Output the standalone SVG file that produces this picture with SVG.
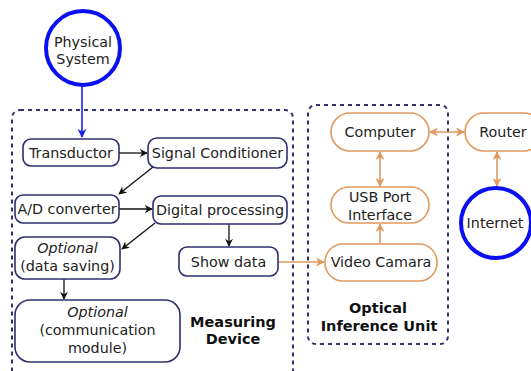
<svg xmlns="http://www.w3.org/2000/svg" width="531" height="371" viewBox="0 0 531 371">
<style>
text{font-family:"DejaVu Sans",Verdana,sans-serif;font-size:14.3px;fill:#222;text-anchor:middle}
.b{font-weight:bold;font-size:14.5px;fill:#111}
.i{font-style:italic}
.n{fill:#fff;stroke:#2f2f70;stroke-width:1.6}
.o{fill:#fff;stroke:#e0995f;stroke-width:1.6}
.c{fill:#fff;stroke:#0a10f0;stroke-width:4}
.grp{fill:none;stroke:#33336e;stroke-width:2;stroke-dasharray:4 4}
.k{stroke:#111;stroke-width:1.3;fill:none}
.ol{stroke:#e0995f;stroke-width:1.6;fill:none}
</style>
<defs>
<marker id="ak" viewBox="0 0 10 10" refX="9" refY="5" markerWidth="8" markerHeight="8" markerUnits="userSpaceOnUse" orient="auto"><path d="M0,0 L10,5 L0,10 L3,5 Z" fill="#111"/></marker>
<marker id="ab" viewBox="0 0 10 10" refX="9" refY="5" markerWidth="9" markerHeight="9" markerUnits="userSpaceOnUse" orient="auto"><path d="M0,0 L10,5 L0,10 L3,5 Z" fill="#1a22ee"/></marker>
<marker id="ao" viewBox="0 0 10 10" refX="9" refY="5" markerWidth="9" markerHeight="9" markerUnits="userSpaceOnUse" orient="auto-start-reverse"><path d="M0,0 L10,5 L0,10 L3,5 Z" fill="#e0995f"/></marker>
</defs>
<g id="measuring-device">
<rect class="grp" x="12" y="110" width="281" height="275" rx="8"/>
<text class="b" x="233" y="327">Measuring</text>
<text class="b" x="233" y="344">Device</text>
</g>
<g id="optical-unit">
<rect class="grp" x="308" y="105" width="140" height="239" rx="8"/>
<text class="b" x="378" y="313">Optical</text>
<text class="b" x="379" y="331">Inference Unit</text>
</g>
<g id="connectors">
<line x1="82" y1="86" x2="82" y2="137" stroke="#1a22ee" stroke-width="1.6" marker-end="url(#ab)"/>
<line class="k" x1="119" y1="153" x2="147" y2="153" marker-end="url(#ak)"/>
<line class="k" x1="153" y1="167" x2="119" y2="194" marker-end="url(#ak)"/>
<line class="k" x1="119" y1="209" x2="152" y2="209" marker-end="url(#ak)"/>
<line class="k" x1="155" y1="223" x2="122" y2="249" marker-end="url(#ak)"/>
<line class="k" x1="229" y1="224" x2="229" y2="246" marker-end="url(#ak)"/>
<line class="k" x1="64" y1="279" x2="64" y2="299" marker-end="url(#ak)"/>
<line class="ol" x1="278" y1="262" x2="324" y2="262" marker-end="url(#ao)"/>
<line class="ol" x1="380" y1="244" x2="380" y2="224" marker-end="url(#ao)"/>
<line class="ol" x1="380" y1="152" x2="380" y2="186" marker-start="url(#ao)" marker-end="url(#ao)"/>
<line class="ol" x1="430" y1="132" x2="464" y2="132" marker-start="url(#ao)" marker-end="url(#ao)"/>
<line class="ol" x1="497" y1="152" x2="497" y2="186" marker-start="url(#ao)" marker-end="url(#ao)"/>
</g>
<g id="physical-system">
<circle class="c" cx="83" cy="48" r="37"/>
<text x="83" y="47">Physical</text>
<text x="83" y="64">System</text>
</g>
<g id="transductor">
<rect class="n" x="23" y="139" width="96" height="27" rx="8"/>
<text x="71" y="158">Transductor</text>
</g>
<g id="signal-conditioner">
<rect class="n" x="148" y="138" width="139" height="30" rx="9"/>
<text x="217.5" y="158">Signal Conditioner</text>
</g>
<g id="ad-converter">
<rect class="n" x="15" y="195" width="104" height="28" rx="8"/>
<text x="67" y="214">A/D converter</text>
</g>
<g id="digital-processing">
<rect class="n" x="153" y="196" width="134" height="28" rx="8"/>
<text x="220" y="215">Digital processing</text>
</g>
<g id="data-saving">
<rect class="n" x="15" y="237" width="105" height="42" rx="10"/>
<text class="i" x="67.5" y="253">Optional</text>
<text x="67.5" y="271">(data saving)</text>
</g>
<g id="show-data">
<rect class="n" x="179" y="247" width="99" height="29" rx="8"/>
<text x="228.5" y="266.5">Show data</text>
</g>
<g id="communication-module">
<rect class="n" x="15" y="300" width="165" height="62" rx="15"/>
<text class="i" x="97.5" y="317">Optional</text>
<text x="97.5" y="335">(communication</text>
<text x="97.5" y="353">module)</text>
</g>
<g id="computer">
<rect class="o" x="331" y="113" width="98" height="38" rx="19"/>
<text x="380" y="137">Computer</text>
</g>
<g id="usb-port">
<rect class="o" x="331" y="187" width="98" height="36" rx="18"/>
<text x="380" y="202">USB Port</text>
<text x="380" y="220">Interface</text>
</g>
<g id="video-camara">
<rect class="o" x="325" y="244" width="112" height="37" rx="18"/>
<text x="381" y="267">Video Camara</text>
</g>
<g id="router">
<rect class="o" x="465" y="113" width="78" height="38" rx="19"/>
<text x="503" y="137">Router</text>
</g>
<g id="internet">
<circle class="c" cx="496" cy="223" r="35"/>
<text x="495" y="228">Internet</text>
</g>
</svg>
